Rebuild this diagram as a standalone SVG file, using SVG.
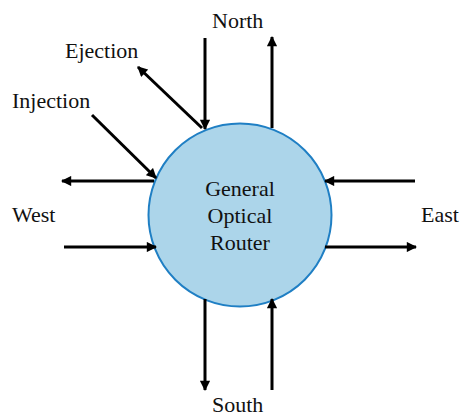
<svg xmlns="http://www.w3.org/2000/svg" width="460" height="417" viewBox="0 0 460 417">
  <style>
    .lbl { font-size: 22px; fill: #111; }
    .core { font-size: 22px; fill: #111; text-anchor: middle; }
    .wire { stroke: #000; stroke-width: 3; fill: none; marker-end: url(#tip); }
  </style>
  <defs>
    <marker id="tip" viewBox="0 0 10 10" refX="9" refY="5" markerWidth="3.8" markerHeight="3.4" markerUnits="strokeWidth" orient="auto">
      <path d="M0,0 L10,5 L0,10 z" fill="#000"/>
    </marker>
  </defs>

  <rect width="460" height="417" fill="#fff"/>

  <g id="router">
    <circle cx="240" cy="215" r="91.5" fill="#acd5ea" stroke="#1f7fc4" stroke-width="2"/>
    <g font-family="Liberation Serif, Times New Roman, DejaVu Serif, serif">
      <text class="core" x="240" y="196">General</text>
      <text class="core" x="240" y="223">Optical</text>
      <text class="core" x="240" y="250">Router</text>
    </g>
  </g>

  <g id="connectors">
    <!-- north port -->
    <line class="wire" x1="205" y1="38" x2="205" y2="129"/>
    <line class="wire" x1="272" y1="128" x2="272" y2="37"/>
    <!-- local ejection / injection -->
    <line class="wire" x1="202" y1="128" x2="138" y2="67"/>
    <line class="wire" x1="92" y1="115" x2="156" y2="178"/>
    <!-- west port -->
    <line class="wire" x1="154" y1="181" x2="62" y2="181"/>
    <line class="wire" x1="64" y1="247" x2="156" y2="247"/>
    <!-- east port -->
    <line class="wire" x1="415" y1="181" x2="325" y2="181"/>
    <line class="wire" x1="325" y1="247" x2="416" y2="247"/>
    <!-- south port -->
    <line class="wire" x1="205" y1="299" x2="205" y2="390"/>
    <line class="wire" x1="272" y1="390" x2="272" y2="299"/>
  </g>

  <g id="labels" font-family="Liberation Serif, Times New Roman, DejaVu Serif, serif">
    <text class="lbl" x="212" y="28">North</text>
    <text class="lbl" x="65" y="58">Ejection</text>
    <text class="lbl" x="12" y="108">Injection</text>
    <text class="lbl" x="12" y="222">West</text>
    <text class="lbl" x="421" y="222">East</text>
    <text class="lbl" x="212" y="412">South</text>
  </g>
</svg>
